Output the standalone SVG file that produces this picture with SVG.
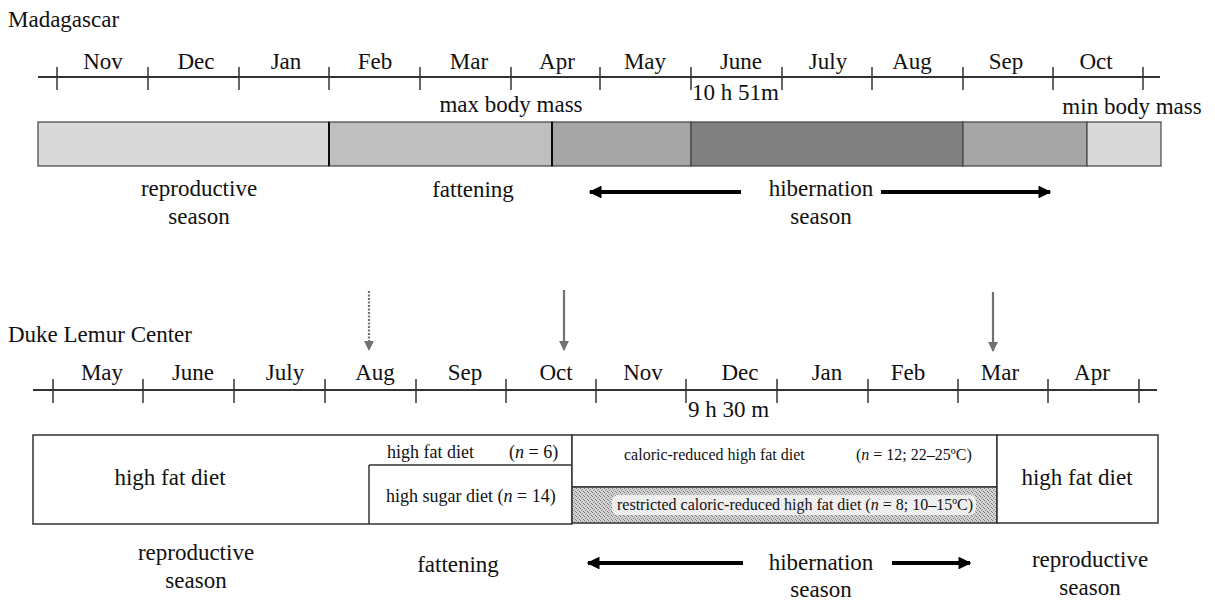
<svg xmlns="http://www.w3.org/2000/svg" width="1215" height="602" viewBox="0 0 1215 602">
<defs>
<style>
text{font-family:"Liberation Serif","Times New Roman",serif;fill:#111}
.l{font-size:23px}
.c{text-anchor:middle}
.s{font-size:18px}
.xs{font-size:16px}
.axis{stroke:#333;stroke-width:2;fill:none}
.tick{stroke:#333;stroke-width:1.5}
.seg{stroke:#444;stroke-width:1.2}
.box{fill:#fff;stroke:#333;stroke-width:1.5}
.big{stroke:#000;stroke-width:4;fill:none}
.gray{stroke:#727272;stroke-width:2.2;fill:none}
</style>
<marker id="bh" viewBox="0 0 10 10" refX="9" refY="5" markerWidth="3.2" markerHeight="3.2" orient="auto" markerUnits="strokeWidth">
<path d="M0,0 L10,5 L0,10 z" fill="#000"/>
</marker>
<marker id="gh" viewBox="0 0 10 10" refX="9" refY="5" markerWidth="4.5" markerHeight="4.5" orient="auto" markerUnits="strokeWidth">
<path d="M0,0 L10,5 L0,10 z" fill="#727272"/>
</marker>
<pattern id="stip" width="4" height="4" patternUnits="userSpaceOnUse">
<rect width="4" height="4" fill="#d4d4d4"/>
<rect x="0" y="0" width="1" height="1" fill="#777"/>
<rect x="2" y="1" width="1" height="1" fill="#999"/>
<rect x="1" y="2" width="1" height="1" fill="#888"/>
<rect x="3" y="3" width="1" height="1" fill="#777"/>
</pattern>
</defs>

<!-- Madagascar section -->
<g id="madagascar-title"><text class="l" x="8" y="27">Madagascar</text></g>
<g id="top-axis">
<line class="axis" x1="38" y1="77" x2="1160" y2="77"/>
<g class="tick">
<line x1="57" y1="67" x2="57" y2="90"/><line x1="148" y1="67" x2="148" y2="90"/><line x1="239" y1="67" x2="239" y2="90"/><line x1="329" y1="67" x2="329" y2="90"/><line x1="420" y1="67" x2="420" y2="90"/><line x1="511" y1="67" x2="511" y2="90"/><line x1="600" y1="67" x2="600" y2="90"/><line x1="691" y1="67" x2="691" y2="90"/><line x1="782" y1="67" x2="782" y2="90"/><line x1="872" y1="67" x2="872" y2="90"/><line x1="963" y1="67" x2="963" y2="90"/><line x1="1053" y1="67" x2="1053" y2="90"/><line x1="1143" y1="67" x2="1143" y2="90"/>
</g>
<g class="l c">
<text x="103" y="69">Nov</text><text x="196" y="69">Dec</text><text x="286" y="69">Jan</text><text x="375" y="69">Feb</text><text x="469" y="69">Mar</text><text x="557" y="69">Apr</text><text x="645" y="69">May</text><text x="741" y="69">June</text><text x="828" y="69">July</text><text x="912" y="69">Aug</text><text x="1006" y="69">Sep</text><text x="1096" y="69">Oct</text>
</g>
<text class="l" x="692" y="100">10 h 51m</text>
<text class="l c" x="511" y="112">max body mass</text>
<text class="l c" x="1132" y="114">min body mass</text>
</g>
<g id="top-bar">
<rect class="seg" x="38" y="122" width="291" height="44" fill="#d9d9d9"/>
<rect class="seg" x="329" y="122" width="223" height="44" fill="#bfbfbf"/>
<rect class="seg" x="552" y="122" width="139" height="44" fill="#a6a6a6"/>
<rect class="seg" x="691" y="122" width="272" height="44" fill="#808080"/>
<rect class="seg" x="963" y="122" width="124" height="44" fill="#a6a6a6"/>
<rect class="seg" x="1087" y="122" width="74" height="44" fill="#d9d9d9"/>
<line x1="329" y1="122" x2="329" y2="166" stroke="#000" stroke-width="1.8"/>
<line x1="552" y1="122" x2="552" y2="166" stroke="#000" stroke-width="1.8"/>
</g>
<g id="top-labels" class="l c">
<text x="199" y="196">reproductive</text>
<text x="199" y="224">season</text>
<text x="473" y="197">fattening</text>
<text x="821" y="196">hibernation</text>
<text x="821" y="224">season</text>
</g>

<!-- Duke Lemur Center section -->
<g id="duke-title"><text class="l" x="8" y="342">Duke Lemur Center</text></g>
<g id="bottom-axis">
<line class="axis" x1="33" y1="390" x2="1157" y2="390"/>
<g class="tick">
<line x1="53" y1="379" x2="53" y2="403"/><line x1="143" y1="379" x2="143" y2="403"/><line x1="234" y1="379" x2="234" y2="403"/><line x1="325" y1="379" x2="325" y2="403"/><line x1="416" y1="379" x2="416" y2="403"/><line x1="506" y1="379" x2="506" y2="403"/><line x1="596" y1="379" x2="596" y2="403"/><line x1="686" y1="379" x2="686" y2="403"/><line x1="777" y1="379" x2="777" y2="403"/><line x1="868" y1="379" x2="868" y2="403"/><line x1="958" y1="379" x2="958" y2="403"/><line x1="1048" y1="379" x2="1048" y2="403"/><line x1="1139" y1="379" x2="1139" y2="403"/>
</g>
<g class="l c">
<text x="102" y="380">May</text><text x="193" y="380">June</text><text x="285" y="380">July</text><text x="375" y="380">Aug</text><text x="465" y="380">Sep</text><text x="556" y="380">Oct</text><text x="643" y="380">Nov</text><text x="740" y="380">Dec</text><text x="827" y="380">Jan</text><text x="908" y="380">Feb</text><text x="1000" y="380">Mar</text><text x="1092" y="380">Apr</text>
</g>
<text class="l" x="688" y="417">9 h 30 m</text>
</g>

<g id="box-left">
<path class="box" d="M33,435 H572 V524 H33 Z"/>
<text class="l c" x="170" y="485">high fat diet</text>
</g>
<g id="box-hf6">
<line x1="369" y1="465" x2="572" y2="465" stroke="#333" stroke-width="1.5"/>
<text class="s" x="387" y="458">high fat diet</text>
<text class="s" x="509" y="458">(<tspan font-style="italic">n</tspan> = 6)</text>
</g>
<g id="box-hs14">
<line x1="369" y1="465" x2="369" y2="524" stroke="#333" stroke-width="1.5"/>
<text class="s" x="386" y="502">high sugar diet (<tspan font-style="italic">n</tspan> = 14)</text>
</g>
<g id="box-caloric">
<rect class="box" x="572" y="435" width="425" height="52"/>
<text class="xs" x="624" y="460">caloric-reduced high fat diet</text>
<text class="xs" x="856" y="460">(<tspan font-style="italic">n</tspan> = 12; 22–25ºC)</text>
</g>
<g id="box-restricted">
<rect x="572" y="487" width="425" height="36" fill="url(#stip)" stroke="#333" stroke-width="1.5"/>
<rect x="612" y="495" width="364" height="20" rx="6" fill="#fff" opacity="0.75"/>
<text class="xs" x="617" y="510">restricted caloric-reduced high fat diet (<tspan font-style="italic">n</tspan> = 8; 10–15ºC)</text>
</g>
<g id="box-right">
<rect class="box" x="997" y="435" width="161" height="88"/>
<text class="l c" x="1077" y="485">high fat diet</text>
</g>
<g id="bottom-labels" class="l c">
<text x="196" y="560">reproductive</text>
<text x="196" y="588">season</text>
<text x="458" y="572">fattening</text>
<text x="821" y="570">hibernation</text>
<text x="821" y="597">season</text>
<text x="1090" y="567">reproductive</text>
<text x="1090" y="595">season</text>
</g>

<g id="connectors">
<line class="big" x1="741" y1="192" x2="590" y2="192" marker-end="url(#bh)"/>
<line class="big" x1="881" y1="192" x2="1050" y2="192" marker-end="url(#bh)"/>
<line class="big" x1="743" y1="563" x2="588" y2="563" marker-end="url(#bh)"/>
<line class="big" x1="892" y1="563" x2="970" y2="563" marker-end="url(#bh)"/>
<line class="gray" x1="369" y1="291" x2="369" y2="350" stroke-dasharray="2 1.5" marker-end="url(#gh)"/>
<line class="gray" x1="564" y1="290" x2="564" y2="350" marker-end="url(#gh)"/>
<line class="gray" x1="993" y1="292" x2="993" y2="351" marker-end="url(#gh)"/>
</g>
</svg>
